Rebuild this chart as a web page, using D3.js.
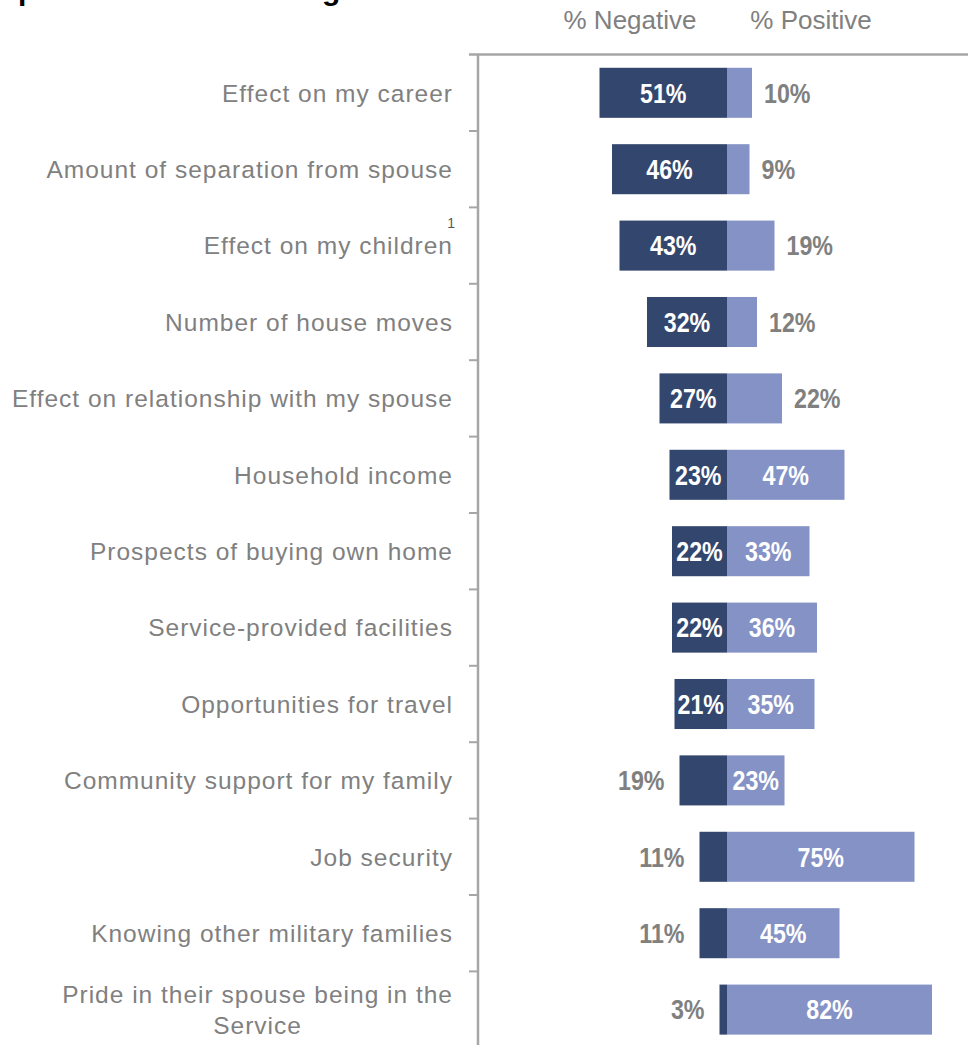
<!DOCTYPE html>
<html>
<head>
<meta charset="utf-8">
<script src="https://cdn.jsdelivr.net/npm/d3@7"></script>
<style>
  html, body { margin: 0; padding: 0; background: #ffffff; }
  svg { display: block; }
</style>
</head>
<body>
<svg id="chart" width="968" height="1045"></svg>
<script>
// Aspects of Service life, rated negative / positive (%)
const categories = [
  "Effect on my career",
  "Amount of separation from spouse",
  "Effect on my children",
  "Number of house moves",
  "Effect on relationship with my spouse",
  "Household income",
  "Prospects of buying own home",
  "Service-provided facilities",
  "Opportunities for travel",
  "Community support for my family",
  "Job security",
  "Knowing other military families",
  "Pride in their spouse being in the Service"
];
const negative = [51, 46, 43, 32, 27, 23, 22, 22, 21, 19, 11, 11, 3];
const positive = [10, 9, 19, 12, 22, 47, 33, 36, 35, 23, 75, 45, 82];
const seriesNames = ["% Negative", "% Positive"];
const footnotes = { "Effect on my children": "1" };
const titleText = "Spouses' overall feelings about Service life";

const rows = categories.map((c, i) => ({ cat: c, neg: negative[i], pos: positive[i] }));

const svg = d3.select("#chart");
const W = 968, H = 1045;

const colNeg = "#33466e";
const colPos = "#8592c6";
const grey = "#808080";
const axisGrey = "#a6a6a6";

const plotTop = 54.6, step = 76.4;
const axisX = 478;

// value scale: percent, negative to the left of zero
const x = d3.scaleLinear().domain([-100, 100]).range([477, 977]);

// category bands (bars centred in each band)
const y = d3.scaleBand()
  .domain(categories)
  .range([plotTop, plotTop + step * categories.length])
  .paddingInner(0.345)
  .paddingOuter(0.1725);

const yEdge = d3.scaleBand()
  .domain(categories)
  .range([plotTop, plotTop + step * categories.length])
  .padding(0);

// Title (runs above the top edge of the frame)
svg.append("text")
  .attr("x", -2).attr("y", -0.5)
  .attr("font-family", "Liberation Sans, Arial, sans-serif")
  .attr("font-weight", "bold")
  .attr("font-size", 30)
  .attr("fill", "#000")
  .text(titleText);

// Column headers
const headerX = [630, 811];
svg.selectAll("text.header")
  .data(seriesNames)
  .join("text")
  .attr("class", "header")
  .attr("x", (d, i) => headerX[i])
  .attr("y", 29)
  .attr("text-anchor", "middle")
  .attr("font-family", "Liberation Sans, Arial, sans-serif")
  .attr("font-size", 26)
  .attr("fill", grey)
  .text(d => d);

// Frame: top rule and category axis with ticks at band edges
svg.append("line")
  .attr("x1", 469).attr("x2", W)
  .attr("y1", plotTop).attr("y2", plotTop)
  .attr("stroke", axisGrey).attr("stroke-width", 2.5);

svg.append("line")
  .attr("x1", axisX).attr("x2", axisX)
  .attr("y1", plotTop).attr("y2", H + 10)
  .attr("stroke", axisGrey).attr("stroke-width", 2.5);

svg.selectAll("line.tick")
  .data(categories.slice(1))
  .join("line")
  .attr("class", "tick")
  .attr("x1", 469).attr("x2", axisX)
  .attr("y1", d => yEdge(d)).attr("y2", d => yEdge(d))
  .attr("stroke", axisGrey).attr("stroke-width", 2);

// Category labels (wrapped to fit left of the axis)
const labelFont = "Liberation Sans, Arial, sans-serif";
const labelRight = 453;
const lineH = 30.5;
const labels = svg.append("g");

rows.forEach(r => {
  const cy = y(r.cat) + y.bandwidth() / 2;
  const t = labels.append("text")
    .attr("font-family", labelFont)
    .attr("font-size", 24.5)
    .attr("letter-spacing", 1)
    .attr("fill", grey);
  // wrap words to max width
  const words = r.cat.split(" ");
  const lines = [];
  let cur = [];
  const probe = t.append("tspan");
  words.forEach(w => {
    const trial = cur.concat([w]).join(" ");
    probe.text(trial);
    if (probe.node().getComputedTextLength() > 448 && cur.length) {
      lines.push(cur.join(" "));
      cur = [w];
    } else {
      cur.push(w);
    }
  });
  lines.push(cur.join(" "));
  probe.remove();

  if (lines.length === 1) {
    t.attr("x", labelRight).attr("y", cy + 8.7).attr("text-anchor", "end").text(lines[0]);
  } else {
    // multi-line labels are centred on their first line
    const m = t.append("tspan").text(lines[0]);
    const w0 = m.node().getComputedTextLength();
    m.remove();
    const cx = labelRight - w0 / 2;
    const first = cy + 8.7 - (lines.length - 1) * lineH / 2;
    t.attr("text-anchor", "middle");
    lines.forEach((ln, k) => {
      t.append("tspan").attr("x", cx).attr("y", first + k * lineH).text(ln);
    });
  }

  if (footnotes[r.cat]) {
    labels.append("text")
      .attr("x", labelRight + 2).attr("y", cy - 18)
      .attr("text-anchor", "end")
      .attr("font-family", labelFont)
      .attr("font-size", 14)
      .attr("fill", "#595959")
      .text(footnotes[r.cat]);
  }
});

// Bars
const bars = svg.append("g");
bars.selectAll("rect.neg")
  .data(rows)
  .join("rect")
  .attr("class", "neg")
  .attr("x", d => x(-d.neg))
  .attr("y", d => y(d.cat))
  .attr("width", d => x(0) - x(-d.neg))
  .attr("height", y.bandwidth())
  .attr("fill", colNeg);

bars.selectAll("rect.pos")
  .data(rows)
  .join("rect")
  .attr("class", "pos")
  .attr("x", x(0))
  .attr("y", d => y(d.cat))
  .attr("width", d => x(d.pos) - x(0))
  .attr("height", y.bandwidth())
  .attr("fill", colPos);

// Value labels: inside the bar when it is wide enough, otherwise beside it.
// Narrow bold figures: glyphs are squeezed horizontally.
const valFont = "'Liberation Sans Narrow', 'Arial Narrow', 'Liberation Sans', Arial, sans-serif";
const squeeze = 0.86;
const vals = svg.append("g")
  .attr("font-family", valFont)
  .attr("font-weight", "bold")
  .attr("font-size", 27);

function narrow(sel) {
  sel.each(function () {
    const len = this.getComputedTextLength();
    d3.select(this)
      .attr("textLength", len * squeeze)
      .attr("lengthAdjust", "spacingAndGlyphs");
  });
}

vals.selectAll("text.negv")
  .data(rows)
  .join("text")
  .attr("class", "negv")
  .each(function (d) {
    const inside = d.neg >= 20;
    const cy = y(d.cat) + y.bandwidth() / 2;
    d3.select(this)
      .attr("x", inside ? (x(-d.neg) + x(0)) / 2 : x(-d.neg) - 15)
      .attr("y", cy)
      .attr("dy", "0.36em")
      .attr("text-anchor", inside ? "middle" : "end")
      .attr("fill", inside ? "#ffffff" : grey)
      .text(d.neg + "%");
  })
  .call(narrow);

vals.selectAll("text.posv")
  .data(rows)
  .join("text")
  .attr("class", "posv")
  .each(function (d) {
    const inside = d.pos >= 23;
    const cy = y(d.cat) + y.bandwidth() / 2;
    d3.select(this)
      .attr("x", inside ? (x(0) + x(d.pos)) / 2 : x(d.pos) + 12)
      .attr("y", cy)
      .attr("dy", "0.36em")
      .attr("text-anchor", inside ? "middle" : "start")
      .attr("fill", inside ? "#ffffff" : grey)
      .text(d.pos + "%");
  })
  .call(narrow);
</script>
</body>
</html>
